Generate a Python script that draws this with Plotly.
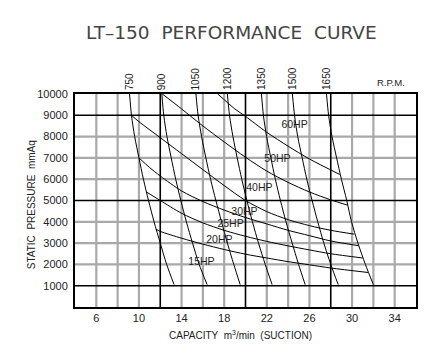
import plotly.graph_objects as go

# ---------------- data ----------------
x_tick_vals = [6, 10, 14, 18, 22, 26, 30, 34]
y_tick_vals = [1000, 2000, 3000, 4000, 5000, 6000, 7000, 8000, 9000, 10000]
y_tick_text = ["1000", "2000", "3000", "4000", "5000", "6000", "7000", "8000", "9000", "10000"]
x_minor_grid = [6, 8, 10, 14, 16, 18, 22, 24, 26, 30, 32, 34]
x_major_grid = [12, 20, 28]
y_minor_grid = [2000, 3000, 4000, 6000, 7000, 8000]
y_major_grid = [1000, 5000, 9000]

# RPM curves: capacity at each pressure level
rpm_labels = ["750", "900", "1050", "1200", "1350", "1500", "1650"]
rpm_pressure = [10000, 9000, 8000, 7000, 6000, 5000, 4000, 3000, 2000, 1050]
rpm_750 = [9.12, 9.30, 9.60, 10.00, 10.42, 10.90, 11.42, 12.00, 12.60, 13.30]
rpm_900 = [12.15, 12.33, 12.63, 13.03, 13.45, 13.93, 14.45, 15.03, 15.65, 16.40]
rpm_1050 = [15.35, 15.55, 15.88, 16.28, 16.72, 17.22, 17.75, 18.30, 18.90, 19.50]
rpm_1200 = [18.30, 18.50, 18.82, 19.22, 19.65, 20.13, 20.65, 21.22, 21.85, 22.50]
rpm_1350 = [21.50, 21.68, 21.98, 22.38, 22.80, 23.28, 23.80, 24.38, 24.98, 25.60]
rpm_1500 = [24.40, 24.60, 24.90, 25.32, 25.75, 26.25, 26.78, 27.35, 28.00, 28.70]
rpm_1650 = [27.60, 27.80, 28.12, 28.55, 29.00, 29.50, 29.95, 30.55, 31.25, 32.00]
rpm_curves = [rpm_750, rpm_900, rpm_1050, rpm_1200, rpm_1350, rpm_1500, rpm_1650]

# Horsepower curves
hp60_q = [17.4, 19.0, 20.0, 22.0, 24.0, 26.0, 28.85]
hp60_p = [10000, 9300, 8950, 8200, 7550, 6950, 6220]
hp50_q = [12.2, 14.0, 16.0, 18.0, 20.0, 22.0, 24.0, 26.0, 28.0, 29.6]
hp50_p = [10000, 9300, 8500, 7750, 7030, 6380, 5850, 5400, 5030, 4780]
hp40_q = [9.3, 10.0, 12.0, 14.0, 16.0, 18.0, 20.0, 22.0, 24.0, 26.0, 28.0, 30.2]
hp40_p = [9000, 8700, 7950, 7200, 6450, 5700, 5000, 4480, 4100, 3820, 3600, 3420]
hp30_q = [10.0, 11.0, 12.0, 14.0, 16.0, 18.0, 20.0, 22.0, 24.0, 26.0, 28.0, 30.6]
hp30_p = [7000, 6550, 6150, 5450, 4950, 4550, 4200, 3900, 3600, 3350, 3100, 2880]
hp25_q = [10.7, 12.0, 14.0, 16.0, 18.0, 20.0, 22.0, 24.0, 26.0, 28.0, 31.0]
hp25_p = [5400, 5000, 4400, 3950, 3600, 3320, 3080, 2870, 2680, 2500, 2300]
hp20_q = [11.6, 12.0, 14.0, 16.0, 18.0, 20.0, 22.0, 24.0, 26.0, 28.0, 31.5]
hp20_p = [3650, 3550, 3230, 2950, 2700, 2480, 2300, 2130, 1980, 1830, 1620]
hp_curves = [(hp60_q, hp60_p), (hp50_q, hp50_p), (hp40_q, hp40_p),
             (hp30_q, hp30_p), (hp25_q, hp25_p), (hp20_q, hp20_p)]

hp_labels = ["60HP", "50HP", "40HP", "30HP", "25HP", "20HP", "15HP"]
hp_label_q = [24.6, 23.0, 21.3, 19.9, 18.6, 17.55, 15.87]
hp_label_p = [8530, 6920, 5550, 4460, 3880, 3150, 2100]

# ---------------- figure ----------------
fig = go.Figure()

def vlines(vals):
    xs, ys = [], []
    for v in vals:
        xs += [v, v, None]
        ys += [0, 10000, None]
    return xs, ys

def hlines(vals):
    xs, ys = [], []
    for v in vals:
        xs += [4, 36, None]
        ys += [v, v, None]
    return xs, ys

gray = "#a9a9a9"
for fn, vals, col, w in [(vlines, x_minor_grid, gray, 2.2), (hlines, y_minor_grid, gray, 2.2),
                         (vlines, x_major_grid, "black", 1.6), (hlines, y_major_grid, "black", 1.6)]:
    xs, ys = fn(vals)
    fig.add_trace(go.Scatter(x=xs, y=ys, mode="lines", line=dict(color=col, width=w),
                             hoverinfo="skip", showlegend=False))

for q in rpm_curves:
    fig.add_trace(go.Scatter(x=q, y=rpm_pressure, mode="lines",
                             line=dict(color="black", width=1, shape="spline", smoothing=0.8),
                             showlegend=False))
for q, p in hp_curves:
    fig.add_trace(go.Scatter(x=q, y=p, mode="lines",
                             line=dict(color="black", width=1, shape="spline", smoothing=0.8),
                             showlegend=False))

fig.add_trace(go.Scatter(x=hp_label_q, y=hp_label_p, mode="text", text=hp_labels,
                         textfont=dict(family="Liberation Sans", size=10.5, color="#222"),
                         showlegend=False))

ann = []
for lab, q in zip(rpm_labels, rpm_curves):
    ann.append(dict(x=q[0], y=1.0094, xref="x", yref="paper", text=lab, textangle=-90,
                    showarrow=False, xanchor="center", yanchor="bottom",
                    font=dict(family="Liberation Sans", size=10, color="#222")))
ann.append(dict(x=33.65, y=1.052, xref="x", yref="paper", text="R.P.M.", showarrow=False,
                xanchor="center", yanchor="middle",
                font=dict(family="Liberation Sans", size=9.5, color="#222")))
ann.append(dict(x=0.46, y=1.291, xref="paper", yref="paper", text="LT–150  PERFORMANCE  CURVE",
                showarrow=False, xanchor="center", yanchor="middle",
                font=dict(family="DejaVu Sans", size=18.5, color="#444")))
ann.append(dict(x=-0.127, y=0.481, xref="paper", yref="paper", text="STATIC  PRESSURE  mmAq",
                textangle=-90, showarrow=False, xanchor="center", yanchor="middle",
                font=dict(family="Liberation Sans", size=10, color="#222")))
ann.append(dict(x=0.485, y=-0.131, xref="paper", yref="paper",
                text="CAPACITY  m<sup>3</sup>/min  (SUCTION)", showarrow=False,
                xanchor="center", yanchor="middle",
                font=dict(family="Liberation Sans", size=10, color="#222")))

fig.update_layout(
    width=446, height=346,
    margin=dict(l=75, r=30, t=94, b=39),
    paper_bgcolor="white", plot_bgcolor="white",
    annotations=ann,
    xaxis=dict(range=[4, 36], tickmode="array", tickvals=x_tick_vals, showgrid=False,
               zeroline=False, showline=True, mirror=True, linecolor="black", linewidth=2,
               ticks="", ticklabelstandoff=0,
               tickfont=dict(family="Liberation Sans", size=11, color="#222")),
    yaxis=dict(range=[0, 10000], tickmode="array", tickvals=y_tick_vals, ticktext=y_tick_text,
               showgrid=False, zeroline=False, showline=True, mirror=True, linecolor="black",
               linewidth=2, ticks="", ticklabelstandoff=3,
               tickfont=dict(family="Liberation Sans", size=11, color="#222")),
)

fig.write_html("out.html")
